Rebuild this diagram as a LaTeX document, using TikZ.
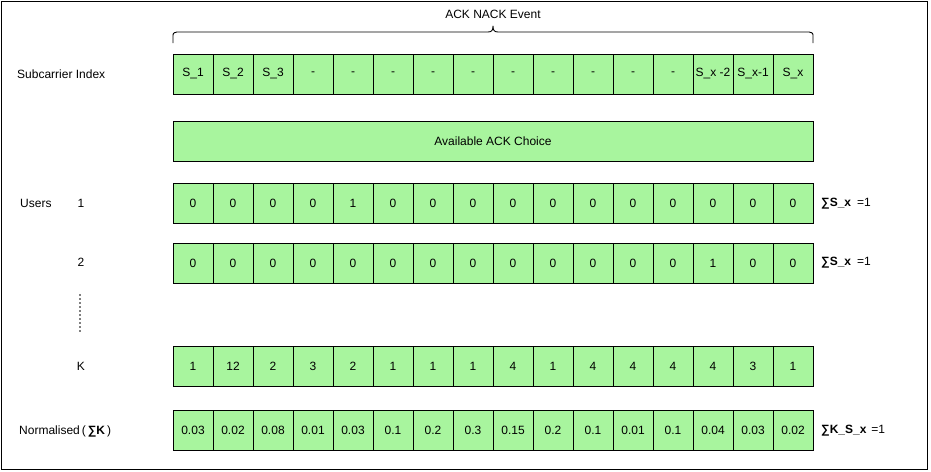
\documentclass[tikz,border=0pt]{standalone}
\usepackage{fontspec}
\setmainfont{Liberation Sans}
\definecolor{cellgreen}{HTML}{A8F59E}
\begin{document}
\begin{tikzpicture}[x=1pt,y=-1pt,
  font=\fontsize{12}{14}\selectfont,
  cell/.style={draw=black, fill=cellgreen, minimum width=40pt, minimum height=40pt, inner sep=0pt, line width=0.9pt},
  lbl/.style={inner sep=0pt, anchor=west},
  clbl/.style={inner sep=0pt},
  sumlbl/.style={inner sep=0pt, anchor=west, font=\fontsize{12}{14}\selectfont},
  bracestyle/.style={draw=black, line width=0.9pt, line join=round}]
\useasboundingbox (0,0) rectangle (931,471);
\draw[line width=1.5pt] (1.5,1.5) rectangle (927.5,469.5);

% brace
\coordinate (bl) at (173,43);
\coordinate (br) at (813,43);
\coordinate (bm) at (493,26);
\draw[bracestyle] (bl) -- (173,37) .. controls (173,33) .. (177,32) -- (488,32)
  .. controls (492,32) and (493,30) .. (bm)
  .. controls (493,30) and (494,32) .. (498,32) -- (809,32)
  .. controls (813,33) .. (813,37) -- (br);
\node[clbl] (ev) at (493,14) {ACK NACK Event};

% row labels
\node[lbl] (lsub) at (17,74) {Subcarrier Index};
\node[lbl] (lusers) at (20,203) {Users};
\node[clbl] (lu1) at (81,203) {1};
\node[clbl] (lu2) at (81,262) {2};
\node[clbl] (lk) at (81,366) {K};
\node[lbl] (lnorm) at (19,431) {Normalised\,(\,\textbf{∑K}\,)};
\coordinate (dtop) at (80,294);
\coordinate (dbot) at (80,333);
\draw[gray, line width=1.3pt, dash pattern=on 1.5pt off 2.5pt] (dtop) -- (dbot);

% subcarrier row
\foreach \t [count=\i] in {S\_1,S\_2,S\_3,-,-,-,-,-,-,-,-,-,-,{S\_x -2},S\_x-1,S\_x}
  \node[cell] (s\i) at ({153+40*\i},74) {\t};

% available
\node[cell, minimum width=640pt] (avail) at (493,141) {Available ACK Choice};

% user 1
\foreach \t [count=\i] in {0,0,0,0,1,0,0,0,0,0,0,0,0,0,0,0}
  \node[cell] (a\i) at ({153+40*\i},203) {\t};
% user 2
\foreach \t [count=\i] in {0,0,0,0,0,0,0,0,0,0,0,0,0,1,0,0}
  \node[cell] (b\i) at ({153+40*\i},263) {\t};
% K
\foreach \t [count=\i] in {1,12,2,3,2,1,1,1,4,1,4,4,4,4,3,1}
  \node[cell] (k\i) at ({153+40*\i},366) {\t};
% normalised
\foreach \t [count=\i] in {0.03,0.02,0.08,0.01,0.03,0.1,0.2,0.3,0.15,0.2,0.1,0.01,0.1,0.04,0.03,0.02}
  \node[cell] (n\i) at ({153+40*\i},430) {\t};

% sums
\node[sumlbl] (sum1) at (821,204) {\textbf{∑S\_x}\hspace{6pt}=1};
\node[sumlbl] (sum2) at (821,263) {\textbf{∑S\_x}\hspace{6pt}=1};
\node[sumlbl] (sum3) at (821,431) {\textbf{∑K\_S\_x}\hspace{5pt}=1};
\end{tikzpicture}
\end{document}
